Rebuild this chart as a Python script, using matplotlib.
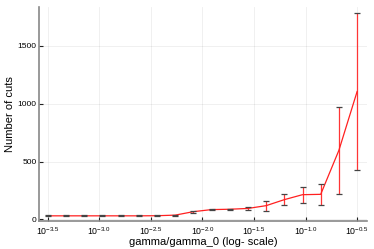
import numpy as np
import matplotlib
matplotlib.use("Agg")
import matplotlib.pyplot as plt

plt.rcParams['font.family'] = ['Liberation Sans', 'DejaVu Sans']
plt.rcParams['mathtext.fontset'] = 'custom'
plt.rcParams['mathtext.rm'] = 'Liberation Sans'
plt.rcParams['mathtext.it'] = 'Liberation Sans'

log_gamma = np.linspace(-3.5, -0.5, 18)
mean_cuts = [30, 30, 30, 30, 30, 30, 31, 36, 66, 84, 87, 94, 118, 170, 213, 216, 597, 1105]
std_cuts = [3, 3, 3, 3, 3, 3, 3, 4, 10, 5, 5, 12, 44, 49, 70, 91, 378, 678]
xtick_exps = [-3.5, -3.0, -2.5, -2.0, -1.5, -1.0, -0.5]
ytick_vals = [0, 500, 1000, 1500]

gamma = 10 ** log_gamma

fig = plt.figure(figsize=(3.74, 2.49), dpi=100)
ax = fig.add_axes([0.1056, 0.1137, 0.981 - 0.1056, 0.972 - 0.1137])
ax.set_xscale('log')

eb = ax.errorbar(gamma, mean_cuts, yerr=std_cuts, color='#ff2020', lw=0.9,
                 ecolor='#ff3535', elinewidth=0.9, capsize=2.5, capthick=0.9, zorder=3)
for cap in eb[1]:
    cap.set_markeredgecolor('#444444')
    cap.set_zorder(4)

xt = [10 ** e for e in xtick_exps]
ax.set_xticks(xt)
ax.set_xticklabels([r'$10^{%.1f}$' % e for e in xtick_exps], fontsize=6.3)
ax.xaxis.set_minor_locator(matplotlib.ticker.NullLocator())
ax.set_yticks(ytick_vals)
ax.set_yticklabels([str(v) for v in ytick_vals], fontsize=6)

ax.set_xlim(10 ** (-3.5 - 0.08), 10 ** (-0.5 + 0.095))
ax.set_ylim(-12, 1837)

ax.grid(True, color='#000000', alpha=0.07, lw=0.6)
ax.set_axisbelow(True)
for side in ['top', 'right']:
    ax.spines[side].set_visible(False)
for side in ['left', 'bottom']:
    ax.spines[side].set_color('#888888')
    ax.spines[side].set_linewidth(1.2)
ax.tick_params(direction='in', length=3, width=0.8, color='#222222', pad=2)
ax.tick_params(axis='x', pad=3)

ax.set_xlabel('gamma/gamma_0 (log- scale)', fontsize=8, labelpad=0)
ax.set_ylabel('Number of cuts', fontsize=8, labelpad=2)

fig.savefig('out.png', dpi=100)
